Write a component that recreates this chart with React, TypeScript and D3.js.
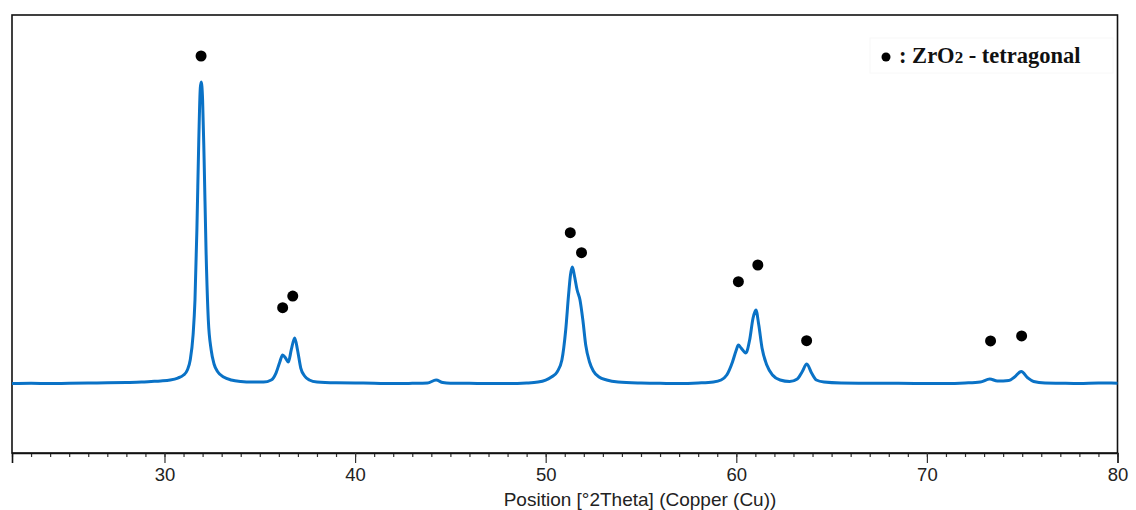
import React, { useEffect, useRef } from 'react';
import * as d3 from 'd3';

// XRD scan: 2theta positions and counts
const twoTheta = [
  22.0, 23.0, 24.0, 25.0, 26.0, 27.0, 28.0, 28.8, 29.3, 29.8, 30.3, 30.7, 31.0, 31.2, 31.35, 31.5,
  31.6, 31.7, 31.8, 31.88, 31.93, 32.0, 32.08, 32.18, 32.3, 32.45, 32.6, 32.8, 33.1, 33.5, 34.0,
  34.6, 35.2, 35.6, 35.85, 36.05, 36.2, 36.35, 36.5, 36.65, 36.83, 36.98, 37.15, 37.35, 37.6, 38.0,
  39.0, 40.0, 41.0, 42.0, 43.0, 43.8, 44.25, 44.6, 45.0, 46.0, 47.0, 48.0, 49.0, 49.6, 50.0, 50.3,
  50.6, 50.85, 51.05, 51.2, 51.3, 51.4, 51.5, 51.65, 51.8, 51.95, 52.1, 52.3, 52.5, 52.8, 53.2,
  53.8, 55.0, 56.0, 57.0, 58.0, 58.8, 59.2, 59.5, 59.8, 60.0, 60.11, 60.25, 60.5, 60.7, 60.88,
  61.03, 61.18, 61.35, 61.6, 61.9, 62.3, 62.8, 63.2, 63.45, 63.7, 63.95, 64.2, 64.6, 65.5, 67.0,
  68.5, 70.0, 71.0, 72.0, 72.8, 73.3, 73.7, 74.3, 74.6, 74.95, 75.3, 75.6, 76.2, 77.0, 78.0, 79.0,
  80.0,
];
const counts = [
  793, 796, 792, 797, 799, 801, 805, 810, 816, 822, 833, 856, 890, 947, 1062, 1347,
  1747, 2546, 3573, 4167, 4235, 4030, 3345, 2317, 1518, 1176, 1016, 925, 868, 833, 816,
  810, 810, 833, 913, 1039, 1119, 1085, 1039, 1176, 1313, 1176, 970, 879, 833, 810,
  801, 799, 796, 793, 795, 799, 833, 805, 797, 796, 793, 793, 799, 810, 833, 868,
  925, 1062, 1404, 1804, 2032, 2123, 2032, 1861, 1747, 1518, 1233, 1039, 936, 868, 833,
  810, 799, 796, 793, 799, 810, 833, 890, 1039, 1176, 1233, 1199, 1142, 1290, 1541,
  1632, 1461, 1199, 1005, 890, 833, 816, 845, 925, 1016, 913, 833, 810, 799, 796,
  796, 793, 793, 799, 810, 845, 822, 828, 868, 930, 856, 816, 799, 796, 793, 799,
  797,
];

// peak markers for tetragonal ZrO2
const markTheta = [31.92, 36.2, 36.73, 51.29, 51.88, 60.11, 61.13, 63.69, 73.34, 74.97];
const markCount = [4532, 1659, 1792, 2515, 2287, 1956, 2146, 1282, 1279, 1336];

const xTicks = [30, 40, 50, 60, 70, 80];
const xLabel = 'Position [°2Theta] (Copper (Cu))';

const XrdChart = ({ width, height }) => {
  const svgRef = useRef(null);

  useEffect(() => {
    const svg = d3.select(svgRef.current);
    svg.selectAll('*').remove();

    const left = 12;
    const right = 1117.5;
    const top = 15;
    const bottom = 453;

    const x = d3.scaleLinear().domain([22, 80]).range([left, right]);
    const y = d3.scaleLinear().domain([0, 5000]).range([bottom, top]);

    const data = twoTheta.map((t, i) => ({ t, c: counts[i] }));

    // plot frame
    svg
      .append('rect')
      .attr('x', left)
      .attr('y', top)
      .attr('width', right - left)
      .attr('height', bottom - top)
      .attr('fill', 'none')
      .attr('stroke', '#111')
      .attr('stroke-width', 1.6);

    // minor ticks every degree, no labels
    svg
      .append('g')
      .attr('transform', `translate(0, ${bottom})`)
      .call(d3.axisBottom(x).ticks(58).tickSize(4).tickFormat(() => ''))
      .call((g) => g.select('.domain').remove())
      .call((g) => g.selectAll('line').attr('stroke', '#333').attr('stroke-width', 1.2));

    // major ticks + labels
    svg
      .append('g')
      .attr('transform', `translate(0, ${bottom})`)
      .call(d3.axisBottom(x).tickValues(xTicks).tickSize(10).tickPadding(5).tickFormat(d3.format('d')))
      .call((g) =>
        g.select('.domain').attr('stroke', '#111').attr('stroke-width', 1.6)
      )
      .call((g) => g.selectAll('line').attr('stroke', '#333').attr('stroke-width', 1.2))
      .call((g) =>
        g
          .selectAll('text')
          .attr('fill', '#222')
          .attr('font-size', 18.5)
          .attr('font-family', 'Liberation Sans, Arial, sans-serif')
      );

    svg
      .append('text')
      .attr('x', 640)
      .attr('y', 506)
      .attr('text-anchor', 'middle')
      .attr('fill', '#222')
      .attr('font-size', 19)
      .attr('font-family', 'Liberation Sans, Arial, sans-serif')
      .text(xLabel);

    // the scan itself
    const line = d3
      .line()
      .x((d) => x(d.t))
      .y((d) => y(d.c))
      .curve(d3.curveMonotoneX);

    svg
      .append('path')
      .datum(data)
      .attr('fill', 'none')
      .attr('stroke', '#0a72c6')
      .attr('stroke-width', 3)
      .attr('stroke-linejoin', 'round')
      .attr('d', line);

    svg
      .append('g')
      .selectAll('circle')
      .data(markTheta.map((t, i) => ({ t, c: markCount[i] })))
      .join('circle')
      .attr('cx', (d) => x(d.t))
      .attr('cy', (d) => y(d.c))
      .attr('r', 5.5)
      .attr('fill', '#000');

    // legend box (very faint in the original)
    const lg = svg.append('g');
    lg.append('rect')
      .attr('x', 870)
      .attr('y', 38)
      .attr('width', 243)
      .attr('height', 35)
      .attr('fill', '#fff')
      .attr('stroke', '#f8f8f8');
    lg.append('circle').attr('cx', 886).attr('cy', 57).attr('r', 4.5).attr('fill', '#000');
    const txt = lg
      .append('text')
      .attr('x', 899)
      .attr('y', 63)
      .attr('fill', '#111')
      .attr('font-size', 22.5)
      .attr('font-weight', 'bold')
      .attr('font-family', 'Liberation Serif, serif');
    txt.append('tspan').text(': ZrO');
    txt.append('tspan').attr('font-size', 17).text('2');
    txt.append('tspan').text(' - tetragonal');
  }, [width, height]);

  return (
    <svg
      ref={svgRef}
      width={width}
      height={height}
      style={{ position: 'absolute', left: 0, top: 0, background: '#fff' }}
    ></svg>
  );
};

export default function App() {
  return <XrdChart width={1136} height={510} />;
}
